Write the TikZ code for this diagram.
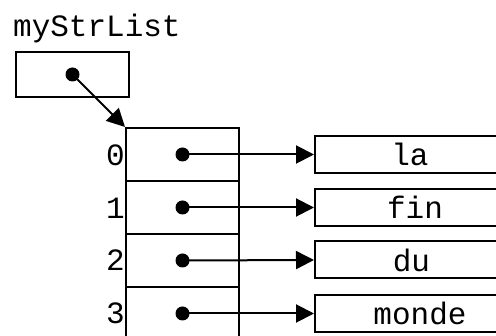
\documentclass[tikz,border=0pt]{standalone}
\usepackage{fontspec}
\setmonofont{Liberation Mono}
\usetikzlibrary{arrows.meta}
\begin{document}
\begin{tikzpicture}[x=1pt,y=-1pt,
  every node/.style={font=\ttfamily\fontsize{31}{36}\selectfont, inner sep=0pt},
  cell/.style={draw, line width=2pt, minimum width=113pt, minimum height=53pt},
  strbox/.style={draw, line width=2pt, minimum width=215pt, minimum height=37pt},
  ptr/.style={line width=2pt, -{Triangle[length=18pt,width=18pt]}},
  dot/.style={circle, fill=black, minimum size=14pt, inner sep=0pt}]
\useasboundingbox (0,0) rectangle (496,336);
\clip (0,0) rectangle (496,336);
% variable
\node[anchor=base west] (name) at (13,37) {myStrList};
\node[draw, line width=2pt, minimum width=113.5pt, minimum height=45.5pt] (var) at (72.5,74.5) {};
\node[dot] (vdot) at (var.center) {};
% array cells
\node[cell] (c0) at (182.5,154.5) {};
\node[cell] (c1) at (182.5,207.5) {};
\node[cell] (c2) at (182.5,260.5) {};
\node[cell] (c3) at (182.5,313.5) {};
\node[anchor=east] (i0) at (125,155) {0};
\node[anchor=east] (i1) at (125,208) {1};
\node[anchor=east] (i2) at (125,260) {2};
\node[anchor=east] (i3) at (125,313) {3};
\foreach \i in {0,...,3} { \node[dot] (d\i) at (c\i.center) {}; }
% string boxes
\node[strbox] (b0) at (422.5,154.5) {};
\node[strbox] (b1) at (422.5,207.5) {};
\node[strbox] (b2) at (422.5,260) {};
\node[strbox] (b3) at (422.5,313.5) {};
\node (t0) at (410,154.5) {la};
\node (t1) at (415,207.5) {fin};
\node (t2) at (411.5,260) {du};
\node (t3) at (420,313.5) {monde};
% pointers
\draw[ptr] (vdot.center) -- (c0.north west);
\foreach \i in {0,...,3} { \draw[ptr] (d\i.center) -- (b\i.west); }
\end{tikzpicture}
\end{document}
